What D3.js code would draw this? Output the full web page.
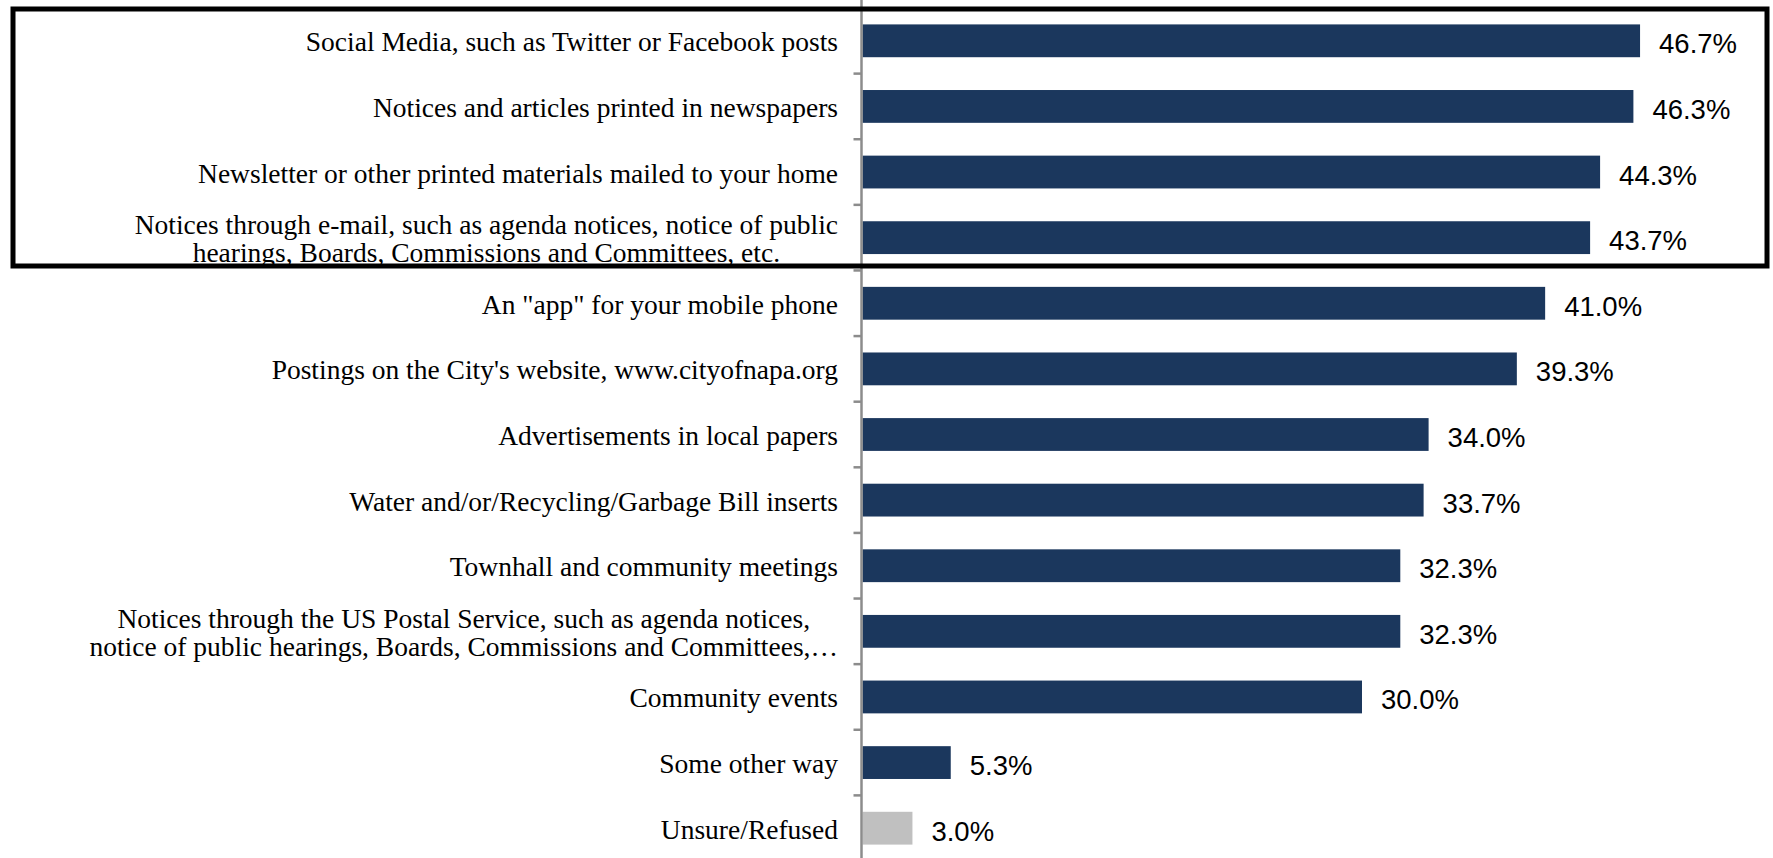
<!DOCTYPE html>
<html>
<head>
<meta charset="utf-8">
<script src="https://cdn.jsdelivr.net/npm/d3@7"></script>
<style>
  html, body { margin: 0; padding: 0; background: #fff; }
  svg { display: block; }
</style>
</head>
<body>
<svg width="1773" height="858"></svg>
<script>
const categories = [
  ["Social Media, such as Twitter or Facebook posts"],
  ["Notices and articles printed in newspapers"],
  ["Newsletter or other printed materials mailed to your home"],
  ["Notices through e-mail, such as agenda notices, notice of public", "hearings, Boards, Commissions and Committees, etc."],
  ["An \"app\" for your mobile phone"],
  ["Postings on the City's website, www.cityofnapa.org"],
  ["Advertisements in local papers"],
  ["Water and/or/Recycling/Garbage Bill inserts"],
  ["Townhall and community meetings"],
  ["Notices through the US Postal Service, such as agenda notices,", "notice of public hearings, Boards, Commissions and Committees,…"],
  ["Community events"],
  ["Some other way"],
  ["Unsure/Refused"]
];
const values = [0.467, 0.463, 0.443, 0.437, 0.410, 0.393, 0.340, 0.337, 0.323, 0.323, 0.300, 0.053, 0.030];
const barColors = ["#1b375d", "#1b375d", "#1b375d", "#1b375d", "#1b375d", "#1b375d", "#1b375d",
  "#1b375d", "#1b375d", "#1b375d", "#1b375d", "#1b375d", "#c0c0c0"];

const svg = d3.select("svg");
const axisX = 861.5;

const ids = categories.map((d, i) => i);

const x = d3.scaleLinear()
  .domain([0, 0.5])
  .range([axisX + 1, axisX + 1 + 832.5]);

const y = d3.scaleBand()
  .domain(ids)
  .range([8, 861])
  .paddingInner(0.5)
  .paddingOuter(0.25);

// bars
svg.append("g")
  .selectAll("rect")
  .data(ids)
  .join("rect")
  .attr("x", x(0))
  .attr("y", i => y(i))
  .attr("width", i => x(values[i]) - x(0))
  .attr("height", y.bandwidth())
  .attr("fill", i => barColors[i]);

// value labels
svg.append("g")
  .selectAll("text")
  .data(ids)
  .join("text")
  .attr("x", i => x(values[i]) + 19)
  .attr("y", i => y(i) + y.bandwidth() / 2 + 12.5)
  .attr("font-family", "'Liberation Sans', Arial, sans-serif")
  .attr("font-size", 27.5)
  .attr("fill", "#000")
  .text(i => d3.format(".1%")(values[i]));

// axis line + ticks between categories
svg.append("line")
  .attr("x1", axisX).attr("x2", axisX)
  .attr("y1", 0).attr("y2", 858)
  .attr("stroke", "#8c8c8c")
  .attr("stroke-width", 2.5);

const step = y.step();
svg.append("g")
  .selectAll("line")
  .data(ids.slice(1))
  .join("line")
  .attr("x1", axisX - 8).attr("x2", axisX)
  .attr("y1", i => y(i) - step * y.paddingInner() / 2)
  .attr("y2", i => y(i) - step * y.paddingInner() / 2)
  .attr("stroke", "#8c8c8c")
  .attr("stroke-width", 2.5);

// category labels (multi-line labels are centred on their widest line)
const lh = 28.5;
const labelRight = 838;
const labels = svg.append("g")
  .attr("font-family", "'Liberation Serif', 'Times New Roman', serif")
  .attr("font-size", 27.5)
  .attr("fill", "#000");

ids.forEach(i => {
  const lines = categories[i];
  const n = lines.length;
  const cy = y(i) + y.bandwidth() / 2;
  const t = labels.append("text");
  const spans = t.selectAll("tspan")
    .data(lines)
    .join("tspan")
    .attr("y", (d, k) => cy + 10.5 + (k - (n - 1) / 2) * lh)
    .text(d => d);
  if (n === 1) {
    t.attr("text-anchor", "end");
    spans.attr("x", labelRight);
  } else {
    const w = d3.max(spans.nodes(), s => s.getComputedTextLength());
    t.attr("text-anchor", "middle");
    spans.attr("x", labelRight - w / 2);
  }
});

// highlight box around the top four items
svg.append("rect")
  .attr("x", 13)
  .attr("y", 9)
  .attr("width", 1754)
  .attr("height", 257)
  .attr("fill", "none")
  .attr("stroke", "#000")
  .attr("stroke-width", 5);
</script>
</body>
</html>
